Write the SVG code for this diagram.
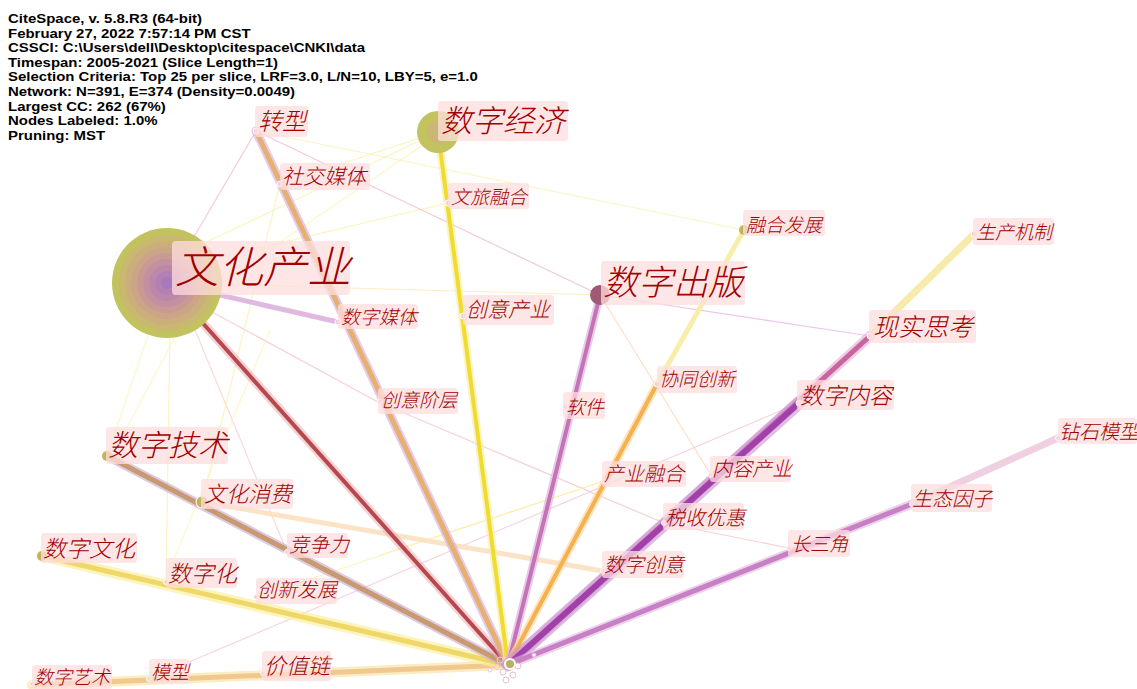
<svg xmlns="http://www.w3.org/2000/svg" width="1137" height="689" viewBox="0 0 1137 689">
<style>
.hdr{font-family:"Liberation Sans",Arial,sans-serif;font-weight:bold;font-size:13.6px;fill:#000}
.lb{font-family:"Noto Sans CJK SC","Noto Sans",sans-serif;font-style:italic;font-weight:300;fill:#a00000}
.bg{fill:#ffdede;fill-opacity:0.75}
.thin{fill:none;stroke-width:1.2;stroke-opacity:0.7}
.dot{fill:#f4d0dc;stroke:#ffffff;stroke-width:1}
line{stroke-linecap:round}
</style>
<rect width="1137" height="689" fill="#ffffff"/>
<g id="edges">
  <g class="thin">
    <line x1="167" y1="283" x2="256" y2="131" stroke="#f0b8c4"/>
    <line x1="190" y1="250" x2="438" y2="132" stroke="#faf0a0"/>
    <line x1="210" y1="290" x2="430" y2="140" stroke="#fbf3b0"/>
    <line x1="280" y1="184" x2="438" y2="132" stroke="#faf0a0"/>
    <line x1="200" y1="262" x2="448" y2="203" stroke="#faf0a0"/>
    <line x1="256" y1="131" x2="744" y2="230" stroke="#fbf0b0"/>
    <line x1="256" y1="131" x2="600" y2="295" stroke="#e8b4c8"/>
    <line x1="167" y1="283" x2="600" y2="295" stroke="#f8e8b0"/>
    <line x1="600" y1="295" x2="870" y2="336" stroke="#e2b0e0"/>
    <line x1="600" y1="295" x2="711" y2="475" stroke="#fbd2b0"/>
    <line x1="190" y1="300" x2="378" y2="402" stroke="#f4bcc4"/>
    <line x1="378" y1="402" x2="664" y2="523" stroke="#f4bcc4"/>
    <line x1="664" y1="523" x2="789" y2="548" stroke="#f4bcc4"/>
    <line x1="799" y1="403" x2="149" y2="679" stroke="#f4c0cc"/>
    <line x1="256" y1="597" x2="604" y2="481" stroke="#faf0a8"/>
    <line x1="160" y1="300" x2="107" y2="456" stroke="#fbf3b0"/>
    <line x1="200" y1="290" x2="115" y2="450" stroke="#fbf3b0"/>
    <line x1="170" y1="330" x2="166" y2="582" stroke="#faf0a8"/>
    <line x1="195" y1="330" x2="287" y2="552" stroke="#f8c8c8"/>
    <line x1="280" y1="184" x2="202" y2="502" stroke="#faf0a8"/>
    <line x1="270" y1="330" x2="165" y2="580" stroke="#fbf3b8"/>
    <line x1="604" y1="481" x2="380" y2="555" stroke="#faf0a8"/>
  </g>
  <line x1="167" y1="283" x2="338" y2="322" stroke="#d8a8d8" stroke-width="5" stroke-opacity="0.8"/>
  <line x1="202" y1="502" x2="603" y2="571" stroke="#fbe0c0" stroke-width="5" stroke-opacity="0.9"/>
  <line x1="657" y1="384" x2="744" y2="230" stroke="#f8eca0" stroke-width="5" stroke-opacity="0.9"/>
  <line x1="870" y1="336" x2="974" y2="234" stroke="#f8eaa8" stroke-width="7"/>
  <line x1="1058" y1="438" x2="912" y2="504" stroke="#f0d0e0" stroke-width="7"/>

  <line x1="32" y1="685" x2="508" y2="665" stroke="#f8e6a8" stroke-width="10" stroke-opacity="0.7"/>
  <line x1="32" y1="685" x2="508" y2="665" stroke="#f0c890" stroke-width="5"/>
  <line x1="42" y1="556" x2="508" y2="665" stroke="#faf0a0" stroke-width="11" stroke-opacity="0.7"/>
  <line x1="42" y1="556" x2="508" y2="665" stroke="#f0d868" stroke-width="5"/>
  <line x1="107" y1="456" x2="508" y2="665" stroke="#c8a8d0" stroke-width="9" stroke-opacity="0.6"/>
  <line x1="107" y1="456" x2="508" y2="665" stroke="#c89a70" stroke-width="5"/>
  <line x1="167" y1="283" x2="508" y2="665" stroke="#eaa8a8" stroke-width="9" stroke-opacity="0.5"/>
  <line x1="167" y1="283" x2="508" y2="665" stroke="#b84850" stroke-width="4"/>
  <line x1="256" y1="131" x2="508" y2="665" stroke="#d4a8e0" stroke-width="9" stroke-opacity="0.6"/>
  <line x1="256" y1="131" x2="508" y2="665" stroke="#e6b070" stroke-width="5"/>
  <line x1="438" y1="132" x2="508" y2="665" stroke="#f8f0a8" stroke-width="8" stroke-opacity="0.7"/>
  <line x1="438" y1="132" x2="508" y2="665" stroke="#f0dc30" stroke-width="4"/>
  <line x1="600" y1="295" x2="508" y2="665" stroke="#e0b4e4" stroke-width="8" stroke-opacity="0.7"/>
  <line x1="600" y1="295" x2="508" y2="665" stroke="#c474b4" stroke-width="4"/>
  <line x1="657" y1="384" x2="508" y2="665" stroke="#fcd8a0" stroke-width="8" stroke-opacity="0.7"/>
  <line x1="657" y1="384" x2="508" y2="665" stroke="#f5b050" stroke-width="4"/>
  <line x1="870" y1="336" x2="508" y2="665" stroke="#e4a8d4" stroke-width="10" stroke-opacity="0.6"/>
  <line x1="870" y1="336" x2="508" y2="665" stroke="#c8649e" stroke-width="5"/>
  <line x1="799" y1="403" x2="508" y2="665" stroke="#c890d0" stroke-width="13" stroke-opacity="0.6"/>
  <line x1="799" y1="403" x2="508" y2="665" stroke="#a040a8" stroke-width="6"/>
  <line x1="912" y1="504" x2="508" y2="665" stroke="#e0b4e0" stroke-width="9" stroke-opacity="0.6"/>
  <line x1="912" y1="504" x2="508" y2="665" stroke="#c880c4" stroke-width="5"/>
</g>

<g id="header" transform="translate(8,0) scale(1.1,1)">
  <text class="hdr" x="0" y="23">CiteSpace, v. 5.8.R3 (64-bit)</text>
  <text class="hdr" x="0" y="37.6">February 27, 2022 7:57:14 PM CST</text>
  <text class="hdr" x="0" y="52.2">CSSCI: C:\Users\dell\Desktop\citespace\CNKI\data</text>
  <text class="hdr" x="0" y="66.8">Timespan: 2005-2021 (Slice Length=1)</text>
  <text class="hdr" x="0" y="81.4">Selection Criteria: Top 25 per slice, LRF=3.0, L/N=10, LBY=5, e=1.0</text>
  <text class="hdr" x="0" y="96">Network: N=391, E=374 (Density=0.0049)</text>
  <text class="hdr" x="0" y="110.6">Largest CC: 262 (67%)</text>
  <text class="hdr" x="0" y="125.2">Nodes Labeled: 1.0%</text>
  <text class="hdr" x="0" y="139.8">Pruning: MST</text>
</g>

<g id="hub">
  <circle cx="500" cy="660" r="3" fill="none" stroke="#f0c8d8" stroke-width="1"/>
  <circle cx="497" cy="667" r="2.5" fill="none" stroke="#f0c8d8" stroke-width="1"/>
  <circle cx="503" cy="672" r="3" fill="#ffffff" stroke="#e8c0d0" stroke-width="1"/>
  <circle cx="513" cy="675" r="3" fill="#ffffff" stroke="#e8c0d0" stroke-width="1"/>
  <circle cx="518" cy="666" r="3" fill="#ffffff" stroke="#e8c0d0" stroke-width="1"/>
  <circle cx="534" cy="655" r="2" fill="#ffffff" stroke="#e8b8d8" stroke-width="1"/>
  <circle cx="490" cy="670" r="2" fill="#ffffff" stroke="#f0c8d8" stroke-width="1"/>
  <circle cx="510" cy="664" r="6" fill="#ffffff"/>
  <circle cx="510" cy="664" r="4" fill="#b8b060"/>
  <circle cx="506" cy="680" r="3" fill="#ffffff" stroke="#e8c0d0" stroke-width="1"/>
</g>

<g id="n-wenhuachanye">
  <circle cx="167" cy="283" r="55" fill="#c2c25e"/>
  <circle cx="167" cy="283" r="48" fill="#c8b870"/>
  <circle cx="167" cy="283" r="42" fill="#ccae7c"/>
  <circle cx="167" cy="283" r="36" fill="#cca488"/>
  <circle cx="167" cy="283" r="30" fill="#c89a94"/>
  <circle cx="167" cy="283" r="24" fill="#c290a0"/>
  <circle cx="167" cy="283" r="18" fill="#bc88aa"/>
  <circle cx="167" cy="283" r="12" fill="#b480b4"/>
  <circle cx="167" cy="283" r="6" fill="#a878bc"/>
  <rect class="bg" x="172" y="241" width="178" height="54" rx="4"/>
  <text class="lb" x="175" y="283" font-size="44">文化产业</text>
</g>
<g id="n-shuzijingji">
  <circle cx="438" cy="132" r="21" fill="#c2c25e"/>
  <circle cx="438" cy="132" r="11" fill="#d0b080" fill-opacity="0.7"/>
  <rect class="bg" x="438" y="101" width="130" height="40" rx="3"/>
  <text class="lb" x="441" y="132" font-size="31">数字经济</text>
</g>
<g id="n-shuzichuban">
  <circle cx="600" cy="295" r="10" fill="#a05874"/>
  <rect class="bg" x="601" y="261" width="144" height="44" rx="3"/>
  <text class="lb" x="603" y="295" font-size="35">数字出版</text>
</g>
<g id="n-zhuanxing">
  <circle class="dot" cx="256" cy="131" r="3"/>
  <rect class="bg" x="255" y="106" width="53" height="31" rx="3"/>
  <text class="lb" x="258" y="130" font-size="24">转型</text>
</g>
<g id="n-shejiaomeiti">
  <circle class="dot" cx="280" cy="184" r="3"/>
  <rect class="bg" x="280" y="163" width="90" height="27" rx="3"/>
  <text class="lb" x="282" y="184" font-size="21">社交媒体</text>
</g>
<g id="n-shuzimeiti">
  <circle class="dot" cx="338" cy="322" r="3"/>
  <rect class="bg" x="338" y="304" width="80" height="25" rx="3"/>
  <text class="lb" x="341" y="324" font-size="19">数字媒体</text>
</g>
<g id="n-wenlvronghe">
  <circle class="dot" cx="448" cy="203" r="3"/>
  <rect class="bg" x="448" y="183" width="81" height="26" rx="3"/>
  <text class="lb" x="451" y="204" font-size="19">文旅融合</text>
</g>
<g id="n-chuangyichanye">
  <circle class="dot" cx="463" cy="316" r="3"/>
  <rect class="bg" x="463" y="295" width="91" height="30" rx="3"/>
  <text class="lb" x="466" y="317" font-size="21">创意产业</text>
</g>
<g id="n-ronghefazhan">
  <circle cx="744" cy="230" r="5" fill="#c2b45e"/>
  <rect class="bg" x="743" y="210" width="82" height="26" rx="3"/>
  <text class="lb" x="746" y="232" font-size="19">融合发展</text>
</g>
<g id="n-shengchanjizhi">
  <circle class="dot" cx="974" cy="234" r="3"/>
  <rect class="bg" x="973" y="218" width="81" height="27" rx="3"/>
  <text class="lb" x="976" y="239" font-size="19">生产机制</text>
</g>
<g id="n-xianshisikao">
  <circle class="dot" cx="870" cy="336" r="3"/>
  <rect class="bg" x="869" y="310" width="107" height="33" rx="3"/>
  <text class="lb" x="873" y="336" font-size="25">现实思考</text>
</g>
<g id="n-xietongchuangxin">
  <circle class="dot" cx="657" cy="384" r="3"/>
  <rect class="bg" x="657" y="366" width="80" height="27" rx="3"/>
  <text class="lb" x="659" y="386" font-size="19">协同创新</text>
</g>
<g id="n-shuzineirong">
  <circle class="dot" cx="799" cy="403" r="3"/>
  <rect class="bg" x="797" y="380" width="97" height="30" rx="3"/>
  <text class="lb" x="800" y="404" font-size="23">数字内容</text>
</g>
<g id="n-ruanjian">
  <circle class="dot" cx="565" cy="407" r="2.5"/>
  <rect class="bg" x="563" y="392" width="42" height="27" rx="3"/>
  <text class="lb" x="566" y="414" font-size="19">软件</text>
</g>
<g id="n-chuangyijieceng">
  <circle class="dot" cx="380" cy="402" r="2.5"/>
  <rect class="bg" x="378" y="388" width="80" height="26" rx="3"/>
  <text class="lb" x="381" y="407" font-size="19">创意阶层</text>
</g>
<g id="n-shuzijishu">
  <circle cx="107" cy="456" r="5" fill="#c2b45e"/>
  <rect class="bg" x="106" y="427" width="122" height="37" rx="3"/>
  <text class="lb" x="108" y="456" font-size="30">数字技术</text>
</g>
<g id="n-wenhuaxiaofei">
  <circle cx="202" cy="502" r="6.5" fill="#ffffff"/>
  <circle cx="202" cy="502" r="5.5" fill="#c2b45e"/>
  <rect class="bg" x="201" y="479" width="92" height="30" rx="3"/>
  <text class="lb" x="204" y="502" font-size="22">文化消费</text>
</g>
<g id="n-chanyeronghe">
  <circle class="dot" cx="604" cy="481" r="2.5"/>
  <rect class="bg" x="602" y="461" width="84" height="26" rx="3"/>
  <text class="lb" x="604" y="481" font-size="20">产业融合</text>
</g>
<g id="n-neirongchanye">
  <circle class="dot" cx="711" cy="475" r="2.5"/>
  <rect class="bg" x="710" y="456" width="81" height="26" rx="3"/>
  <text class="lb" x="712" y="476" font-size="20">内容产业</text>
</g>
<g id="n-shuishouyouhui">
  <circle class="dot" cx="664" cy="523" r="2.5"/>
  <rect class="bg" x="663" y="503" width="81" height="27" rx="3"/>
  <text class="lb" x="665" y="525" font-size="20">税收优惠</text>
</g>
<g id="n-changsanjiao">
  <circle class="dot" cx="789" cy="548" r="2.5"/>
  <rect class="bg" x="788" y="530" width="62" height="27" rx="3"/>
  <text class="lb" x="791" y="551" font-size="19">长三角</text>
</g>
<g id="n-shuzichuangyi">
  <circle class="dot" cx="603" cy="571" r="2.5"/>
  <rect class="bg" x="602" y="551" width="82" height="27" rx="3"/>
  <text class="lb" x="604" y="572" font-size="20">数字创意</text>
</g>
<g id="n-zuanshimoxing">
  <circle class="dot" cx="1058" cy="438" r="2.5"/>
  <rect class="bg" x="1058" y="418" width="79" height="26" rx="3"/>
  <text class="lb" x="1059" y="439" font-size="20">钻石模型</text>
</g>
<g id="n-shengtaiyinzi">
  <circle class="dot" cx="912" cy="504" r="2.5"/>
  <rect class="bg" x="911" y="484" width="81" height="28" rx="3"/>
  <text class="lb" x="912" y="506" font-size="20">生态因子</text>
</g>
<g id="n-jingzhengli">
  <circle class="dot" cx="287" cy="552" r="2.5"/>
  <rect class="bg" x="287" y="533" width="61" height="25" rx="3"/>
  <text class="lb" x="289" y="552" font-size="20">竞争力</text>
</g>
<g id="n-shuziwenhua">
  <circle cx="42" cy="556" r="5" fill="#c2b45e"/>
  <rect class="bg" x="41" y="533" width="96" height="30" rx="3"/>
  <text class="lb" x="43" y="557" font-size="23">数字文化</text>
</g>
<g id="n-shuzihua">
  <circle class="dot" cx="166" cy="582" r="2.5"/>
  <rect class="bg" x="166" y="558" width="71" height="30" rx="3"/>
  <text class="lb" x="168" y="582" font-size="23">数字化</text>
</g>
<g id="n-chuangxinfazhan">
  <circle class="dot" cx="256" cy="597" r="2.5"/>
  <rect class="bg" x="256" y="578" width="81" height="26" rx="3"/>
  <text class="lb" x="257" y="597" font-size="20">创新发展</text>
</g>
<g id="n-shuziyishu">
  <circle class="dot" cx="32" cy="684" r="2.5"/>
  <rect class="bg" x="32" y="665" width="80" height="24" rx="3"/>
  <text class="lb" x="34" y="684" font-size="19">数字艺术</text>
</g>
<g id="n-moxing">
  <circle class="dot" cx="149" cy="679" r="2.5"/>
  <rect class="bg" x="149" y="659" width="40" height="25" rx="3"/>
  <text class="lb" x="151" y="679" font-size="19">模型</text>
</g>
<g id="n-jiazhilian">
  <circle class="dot" cx="263" cy="673" r="2.5"/>
  <rect class="bg" x="262" y="651" width="69" height="30" rx="3"/>
  <text class="lb" x="264" y="674" font-size="22">价值链</text>
</g>
</svg>
